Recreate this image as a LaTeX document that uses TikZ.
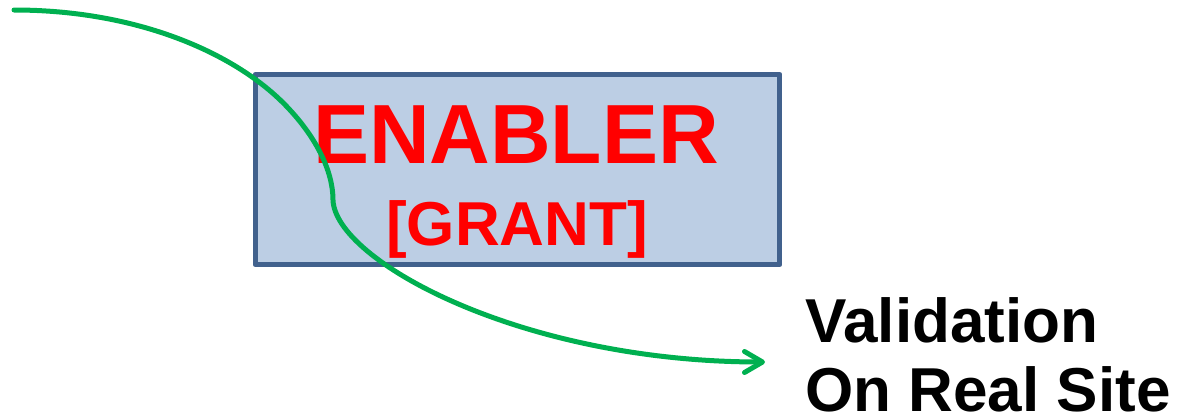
\documentclass[tikz,border=0pt]{standalone}
\usepackage{fontspec}
\setmainfont{Liberation Sans}
\usepackage{xcolor}
\usepackage{tikz}
\usetikzlibrary{arrows.meta}
\definecolor{boxfill}{RGB}{188,206,228}
\definecolor{boxedge}{RGB}{65,97,141}
\definecolor{grantred}{RGB}{255,0,0}
\definecolor{flowgreen}{RGB}{0,176,80}

\begin{document}
\begin{tikzpicture}[x=0.02cm,y=-0.02cm,
    bigtext/.style={inner sep=0pt,anchor=base,font=\fontsize{35.3pt}{40pt}\selectfont\bfseries}]
    \useasboundingbox (0,0) rectangle (1184,419);
    \node[draw=boxedge,fill=boxfill,line width=0.1cm,line join=round,minimum width=10.5cm,minimum height=3.8cm,inner sep=0pt] (enabler) at (517.5,169.5) {};
    \node[bigtext,grantred,font=\fontsize{47.8pt}{50pt}\selectfont\bfseries] (title) at (516,163) {ENABLER};
    \node[bigtext,grantred] (grant) at (517,245) {[GRANT]};
    \node[bigtext,anchor=base west] (valid) at (805,342) {Validation};
    \node[bigtext,anchor=base west] (site) at (805,411) {On Real Site};
    \coordinate (start) at (14,10);
    \coordinate (tip) at (765,362);
    % green flow arrow over the box
    \draw[flowgreen,line width=0.1cm,line cap=round,-{Straight Barb[round,length=3.6mm,width=4.2mm]}]
      (start) .. controls (140,10) and (240,55) .. (290,110)
      .. controls (315,137) and (333,170) .. (333,200)
      .. controls (335,260) and (520,362) .. (tip);
  \end{tikzpicture}
\end{document}
